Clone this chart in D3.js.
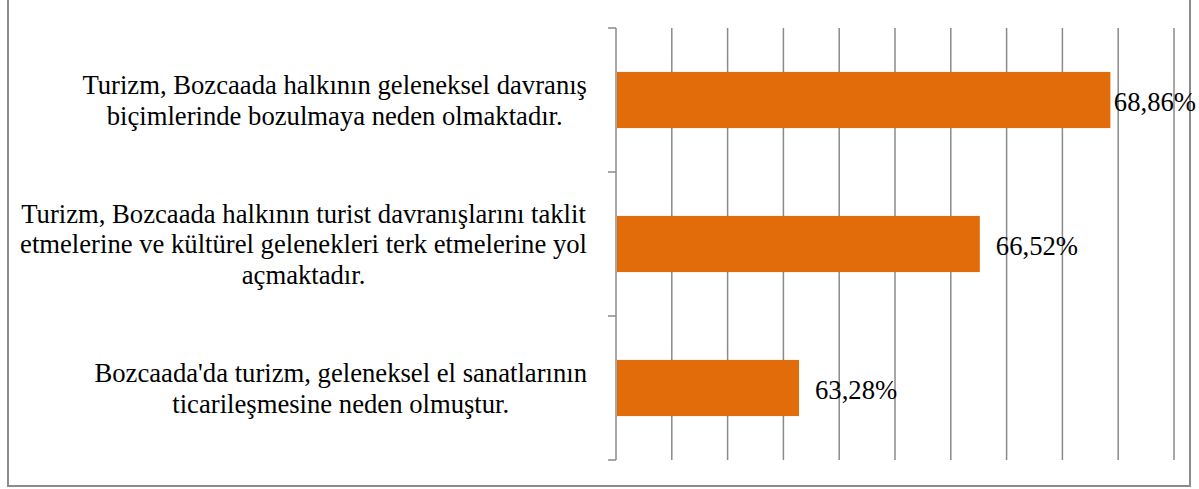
<!DOCTYPE html>
<html>
<head>
<meta charset="utf-8">
<script src="https://cdn.jsdelivr.net/npm/d3@7"></script>
<style>
  body { margin: 0; background: #fff; }
</style>
</head>
<body>
<div id="chart"></div>
<script>
// data
var categories = [
	["Turizm, Bozcaada halkının geleneksel davranış", "biçimlerinde bozulmaya neden olmaktadır."],
	["Turizm, Bozcaada halkının turist davranışlarını taklit", "etmelerine ve kültürel gelenekleri terk etmelerine yol", "açmaktadır."],
	["Bozcaada'da turizm, geleneksel el sanatlarının", "ticarileşmesine neden olmuştur."]
];
var values = [68.86, 66.52, 63.28];
var valueLabels = ["68,86%", "66,52%", "63,28%"];
var xTicks = [60, 61, 62, 63, 64, 65, 66, 67, 68, 69, 70];

var W = 1199, H = 489;
var margin = {top: 28, right: 25, bottom: 30, left: 616},
	width = 1174 - margin.left,
	height = 460 - margin.top;

var fontSize = 26.67, lineH = 30.7;

var svg = d3.select("#chart")
	.append("svg")
	.attr("width", W)
	.attr("height", H)
	.attr("font-family", "'Liberation Serif', 'Times New Roman', serif");

// outer frame
svg.append("rect")
	.attr("x", 8).attr("y", -5)
	.attr("width", 1182).attr("height", 491)
	.attr("fill", "none")
	.attr("stroke", "#8c8c8c")
	.attr("stroke-width", 2);

var g = svg.append("g")
	.attr("transform", "translate(" + margin.left + "," + margin.top + ")");

var x = d3.scaleLinear().domain([60, 70]).range([0, width]);
var y = d3.scaleBand().domain(d3.range(categories.length)).range([0, height]).paddingInner(0.61).paddingOuter(0.305);
var yEdges = d3.scaleLinear().domain([0, categories.length]).range([0, height]);

// vertical gridlines
g.selectAll(".grid")
	.data(xTicks)
	.enter()
	.append("line")
	.attr("x1", function(d){ return x(d); })
	.attr("x2", function(d){ return x(d); })
	.attr("y1", 0)
	.attr("y2", height)
	.attr("stroke", "#8a8a8a")
	.attr("stroke-width", 1.5);

// category axis ticks
g.selectAll(".ytick")
	.data(d3.range(categories.length + 1))
	.enter()
	.append("line")
	.attr("x1", -8)
	.attr("x2", 0)
	.attr("y1", function(d){ return yEdges(d); })
	.attr("y2", function(d){ return yEdges(d); })
	.attr("stroke", "#8a8a8a")
	.attr("stroke-width", 1.5);

// bars
g.selectAll(".bar")
	.data(values)
	.enter()
	.append("rect")
	.attr("fill", "#e36c0a")
	.attr("x", x(60) + 1)
	.attr("y", function(d, i){ return y(i); })
	.attr("width", function(d){ return x(d) - x(60) - 1; })
	.attr("height", y.bandwidth());

// value labels (pushed back when they would run off the right side)
g.selectAll(".val")
	.data(values)
	.enter()
	.append("text")
	.attr("font-size", fontSize)
	.attr("dy", "0.4em")
	.attr("y", function(d, i){ return y(i) + y.bandwidth() / 2; })
	.text(function(d, i){ return valueLabels[i]; })
	.attr("x", function(d){
		var w = this.getComputedTextLength();
		return Math.min(x(d) + 16, W - 3 - margin.left - w);
	});

// category labels, lines centred, block right aligned next to the axis
var labelRight = 587 - margin.left;
categories.forEach(function(lines, i){
	var t = g.append("text")
		.attr("font-size", fontSize)
		.attr("text-anchor", "middle");
	var cy = y(i) + y.bandwidth() / 2;
	var y0 = cy - (lines.length - 1) * lineH / 2;
	var spans = lines.map(function(l, k){
		return t.append("tspan").attr("y", y0 + k * lineH).attr("dy", "0.35em").text(l);
	});
	var maxW = d3.max(spans, function(s){ return s.node().getComputedTextLength(); });
	spans.forEach(function(s){ s.attr("x", labelRight - maxW / 2); });
});
</script>
</body>
</html>
